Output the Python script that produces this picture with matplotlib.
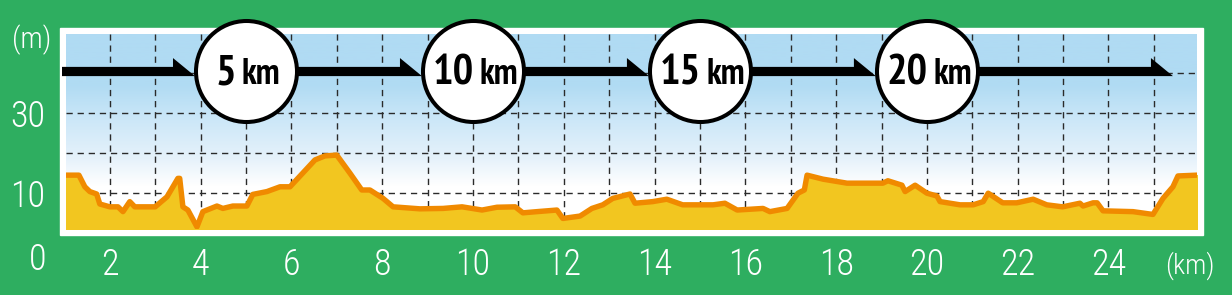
import matplotlib
matplotlib.use("Agg")
import matplotlib.pyplot as plt
import numpy as np
from matplotlib.colors import LinearSegmentedColormap
from matplotlib.patches import Rectangle, Polygon
from matplotlib.offsetbox import TextArea, HPacker, AnnotationBbox

# course profile: distance (km) / height (m)
dist = [1.03, 1.32, 1.45, 1.56, 1.71, 1.78, 2.00, 2.18, 2.29, 2.44, 2.55, 3.00,
        3.26, 3.50, 3.54, 3.61, 3.72, 3.92, 4.05, 4.36, 4.49, 4.71, 5.02, 5.15,
        5.46, 5.75, 5.97, 6.52, 6.74, 7.00, 7.29, 7.55, 7.73, 8.02, 8.24, 8.83,
        9.34, 9.76, 10.20, 10.53, 10.93, 11.10, 11.41, 11.85, 11.98, 12.36,
        12.62, 12.86, 13.08, 13.46, 13.57, 13.96, 14.27, 14.62, 15.29, 15.55,
        15.82, 16.39, 16.54, 16.92, 17.16, 17.30, 17.36, 17.71, 18.24, 19.03,
        19.14, 19.45, 19.52, 19.74, 20.00, 20.22, 20.29, 20.73, 21.02, 21.24,
        21.35, 21.67, 21.98, 22.34, 22.64, 22.99, 23.37, 23.44, 23.66, 23.75,
        23.88, 24.54, 24.98, 25.20, 25.42, 25.53, 25.95]
height = [14.5, 14.5, 11.6, 10.4, 9.8, 7.3, 6.6, 6.6, 5.4, 7.9, 6.6, 6.6,
          9.1, 13.7, 13.7, 6.6, 5.8, 1.6, 5.4, 6.8, 6.2, 6.8, 6.8, 9.7,
          10.4, 11.6, 11.6, 18.3, 19.3, 19.5, 15.0, 10.8, 10.8, 8.7, 6.6, 6.1,
          6.2, 6.6, 5.8, 6.5, 6.6, 5.1, 5.4, 5.8, 3.7, 4.3,
          6.2, 7.1, 8.7, 9.8, 7.5, 7.9, 8.5, 7.1, 7.1, 7.5,
          5.8, 6.2, 5.4, 6.2, 10.0, 10.8, 14.5, 13.5, 12.5, 12.5,
          13.1, 12.0, 10.4, 12.0, 10.0, 9.3, 7.9, 7.1, 7.1, 7.9,
          10.0, 7.6, 7.6, 8.5, 7.1, 6.6, 7.5, 6.8, 7.6, 7.6,
          5.6, 5.4, 4.7, 8.7, 11.6, 14.3, 14.5]

milestones = [5, 10, 15, 20]
milestone_labels = ["5", "10", "15", "20"]
x_ticks = [2, 4, 6, 8, 10, 12, 14, 16, 18, 20, 22, 24]
x_labels = ["2", "4", "6", "8", "10", "12", "14", "16", "18", "20", "22", "24"]
y_ticks = [10, 30]
y_labels = ["10", "30"]

GREEN = "#2eae60"
FILL = "#f2c620"
EDGE = "#f08a00"
thin = ["Roboto Condensed", "Archivo Narrow", "Liberation Sans", "DejaVu Sans"]
bold = ["PT Sans Narrow", "Roboto Condensed", "Archivo Narrow", "Liberation Sans", "DejaVu Sans"]
plt.rcParams["font.family"] = thin
plt.rcParams["font.weight"] = 300

W, H = 1232, 295
fig = plt.figure(figsize=(W / 100, H / 100), dpi=100, facecolor=GREEN)

# white frame behind the plot
fig.patches.append(Rectangle((60 / W, 1 - 235 / H), 1143 / W, 207 / H,
                             transform=fig.transFigure, color="white", zorder=0))

ax = fig.add_axes([66 / W, 1 - 229 / H, 1131 / W, 195 / H])
ax.set_zorder(1)
xmin, xmax = 1.035, 25.95
ymin, ymax = 1.07, 49.7
ax.set_xlim(xmin, xmax)
ax.set_ylim(ymin, ymax)
px_km = 1131 / (xmax - xmin)

# sky gradient
sky = LinearSegmentedColormap.from_list("sky", [
    (0.0, "#ffffff"), (0.22, "#ffffff"), (0.36, "#e6f2fb"),
    (0.56, "#cce7f8"), (0.74, "#b0dbf3"), (1.0, "#b0dbf3")])
ax.imshow(np.linspace(0, 1, 256).reshape(-1, 1), cmap=sky, origin="lower",
          extent=[0, 1, 0, 1], transform=ax.transAxes, aspect="auto", zorder=0)

# dashed grid
dash = (0, (4.5, 3.5))
ax.vlines(np.arange(2, 26), ymin, ymax, colors="#2a2a2a", linestyles=dash, lw=1, zorder=1)
ax.hlines([10, 20, 30, 40], xmin, xmax, colors="#2a2a2a", linestyles=dash, lw=1, zorder=1)

# elevation profile
ax.fill_between(dist, height, 0, color=FILL, zorder=2)
ax.plot(dist, height, color=EDGE, lw=3.9, solid_joinstyle="round", zorder=3)

# arrows between distance markers
r_km = 51 / px_km
hl = 22 / px_km
yb, ys, yh = 39.2, 41.5, 43.7
starts = [xmin - 4 / px_km] + [m + r_km for m in milestones]
ends = [m - r_km for m in milestones] + [25.42]
for x0, x1 in zip(starts, ends):
    ax.add_patch(Polygon([(x0, yb), (x1, yb), (x1 - hl, yh), (x1 - hl, ys), (x0, ys)],
                         closed=True, color="black", lw=0, zorder=4, clip_on=False))

ax.scatter(milestones, [40.4] * len(milestones), s=(101 * 0.72) ** 2, c="white",
           edgecolors="black", linewidths=2.9, zorder=5, clip_on=False)
for m, lab in zip(milestones, milestone_labels):
    box = HPacker(children=[
        TextArea(lab, textprops=dict(size=31, weight="bold", family=bold)),
        TextArea("km", textprops=dict(size=26, weight="bold", family=bold))],
        align="baseline", pad=0, sep=4)
    ab = AnnotationBbox(box, (m + 0.05, 39.8), frameon=False, box_alignment=(0.5, 0.5),
                        pad=0, zorder=6, annotation_clip=False)
    ax.add_artist(ab)

# axes text
for s in ax.spines.values():
    s.set_visible(False)
ax.set_xticks(x_ticks, x_labels)
ax.set_yticks(y_ticks, y_labels)
ax.tick_params(length=0, labelcolor="white", labelsize=26)
ax.tick_params(axis="x", pad=13)
ax.tick_params(axis="y", pad=15)
fig.text(38 / W, 1 - 260 / H, "0", color="white", size=26, ha="center", va="center")
fig.text(32 / W, 1 - 40 / H, "(m)", color="white", size=21, ha="center", va="center")
fig.text(1190 / W, 1 - 266 / H, "(km)", color="white", size=20, ha="center", va="center")

fig.savefig("out.png", dpi=100, facecolor=GREEN)
